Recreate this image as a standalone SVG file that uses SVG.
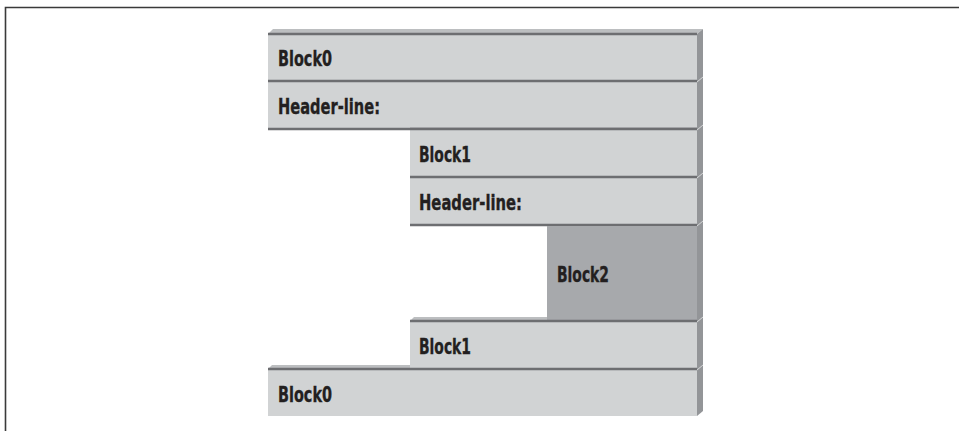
<svg xmlns="http://www.w3.org/2000/svg" width="959" height="431" viewBox="0 0 959 431">
<style>
.face{fill:#d1d3d4}
.dark{fill:#a7a9ac}
.bevel{fill:#bcbec0}
.side{fill:#939598}
.sep{stroke:#6d6e71;stroke-width:2.5;fill:none}
.tick{stroke:#e6e7e8;stroke-width:0.8;fill:none}
.lbl{font-family:"DejaVu Sans Condensed","DejaVu Sans",sans-serif;font-weight:bold;font-size:21.5px;fill:#231f20;stroke:#231f20;stroke-width:0.35}
</style>
<rect x="0" y="0" width="959" height="431" fill="#ffffff"/>
<path d="M5.5 431 V7.5 H959" fill="none" stroke="#3a3a3a" stroke-width="1.6"/>
<g id="side">
<polygon class="bevel" points="268,34 273,29 703,29 697,34"/>
<polygon class="side" points="697,34 703,29 703,411 697,416"/>
<path class="tick" d="M697,82 L703,77 M697,130 L703,125 M697,178 L703,173 M697,226 L703,221 M697,322 L703,317 M697,370 L703,365"/>
</g>
<g id="block0-top">
<rect class="face" x="268" y="34" width="429" height="47"/>
<line class="sep" x1="268" y1="34" x2="697" y2="34"/>
<text class="lbl" x="278" y="66" textLength="54" lengthAdjust="spacingAndGlyphs">Block0</text>
</g>
<g id="header0">
<rect class="face" x="268" y="81" width="429" height="48"/>
<line class="sep" x1="268" y1="81" x2="697" y2="81"/>
<line class="sep" x1="268" y1="129" x2="697" y2="129"/>
<text class="lbl" x="278" y="114" textLength="102" lengthAdjust="spacingAndGlyphs">Header-line:</text>
</g>
<g id="block1-top">
<rect class="face" x="410" y="129" width="287" height="48"/>
<line class="sep" x1="410" y1="129" x2="697" y2="129"/>
<text class="lbl" x="419" y="162" textLength="52" lengthAdjust="spacingAndGlyphs">Block1</text>
</g>
<g id="header1">
<rect class="face" x="410" y="177" width="287" height="48"/>
<line class="sep" x1="410" y1="177" x2="697" y2="177"/>
<line class="sep" x1="410" y1="225" x2="697" y2="225"/>
<text class="lbl" x="419" y="210" textLength="103" lengthAdjust="spacingAndGlyphs">Header-line:</text>
</g>
<g id="block2">
<rect class="dark" x="547" y="226" width="150" height="95"/>
<text class="lbl" x="557" y="282" textLength="52" lengthAdjust="spacingAndGlyphs">Block2</text>
</g>
<g id="block1-bottom">
<polygon class="bevel" points="410,321 414,317 547,317 547,321"/>
<rect class="face" x="410" y="321" width="287" height="48"/>
<line class="sep" x1="410" y1="321" x2="697" y2="321"/>
<text class="lbl" x="419" y="354" textLength="52" lengthAdjust="spacingAndGlyphs">Block1</text>
</g>
<g id="block0-bottom">
<polygon class="bevel" points="268,369 272,365 410,365 410,369"/>
<rect class="face" x="268" y="369" width="429" height="47"/>
<line class="sep" x1="268" y1="369" x2="697" y2="369"/>
<text class="lbl" x="278" y="402" textLength="54" lengthAdjust="spacingAndGlyphs">Block0</text>
</g>
<g id="connectors"/>
</svg>
